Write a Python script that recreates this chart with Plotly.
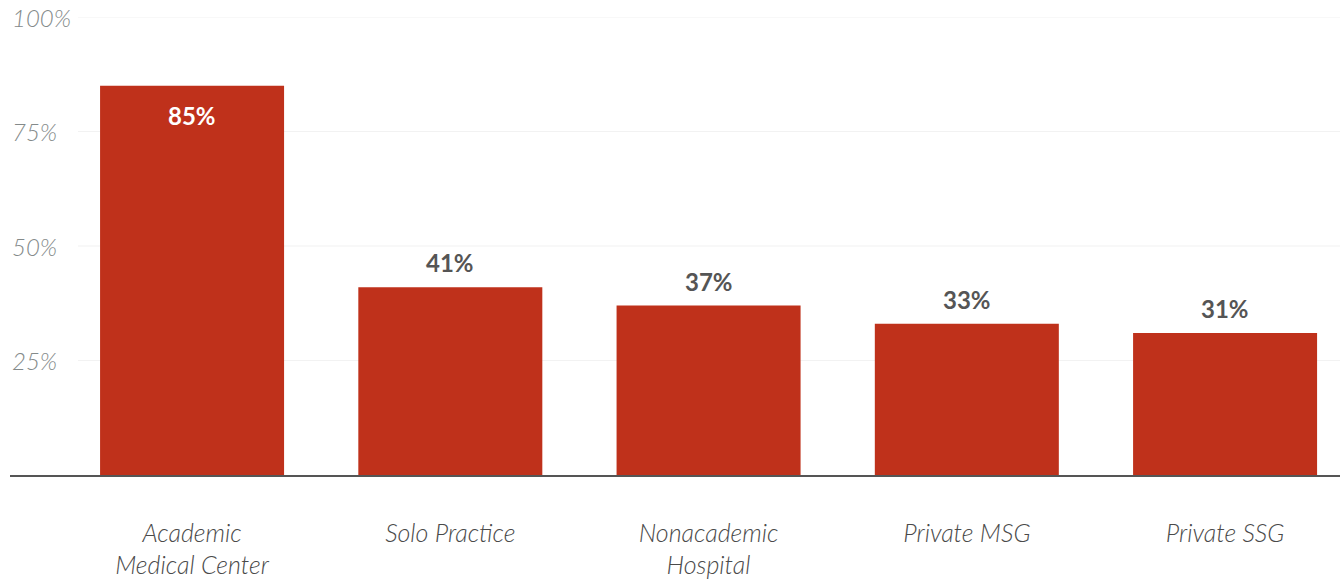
import plotly.graph_objects as go

# Share of respondents by practice setting
categories = ["Academic<br>Medical Center", "Solo Practice", "Nonacademic<br>Hospital",
              "Private MSG", "Private SSG"]
values = [85, 41, 37, 33, 31]
tick_values = [25, 50, 75, 100]
tick_labels = ["25%", "50%", "75%", "100%"]

BAR_RED = "#BF311B"
TEXT_DARK = "#555555"
TEXT_CAT = "#4A4A4A"
TEXT_LIGHT = "#848A8A"
FONT = "Lato"
INSIDE_THRESHOLD = 80

fig = go.Figure()
fig.add_trace(go.Bar(
    x=list(range(len(categories))),
    y=values,
    marker=dict(color=BAR_RED, line=dict(width=0)),
    width=0.7125,
    hoverinfo="skip",
))

# value labels: inside (white) for the tall bar, above for the rest
for i, v in enumerate(values):
    inside = v >= INSIDE_THRESHOLD
    fig.add_annotation(
        x=i, y=v, xref="x", yref="y",
        text=f"<b>{v}%</b>",
        showarrow=False,
        yanchor="top" if inside else "bottom",
        yshift=-13 if inside else 8,
        font=dict(family=FONT, size=24, color="white" if inside else TEXT_DARK),
    )

# left-aligned y tick labels and light gridlines to their right
grid_x0 = (78 - 10) / 1330
for t, lab in zip(tick_values, tick_labels):
    fig.add_shape(type="line", xref="paper", yref="y", x0=grid_x0, x1=1, y0=t, y1=t,
                  line=dict(color="#F2F2F2", width=1.2), layer="below")
    fig.add_annotation(
        x=0, y=t, xref="paper", yref="y",
        text=f"<i>{lab}</i>", showarrow=False,
        xanchor="left", yanchor="middle", xshift=0,
        font=dict(family=FONT, size=24, color=TEXT_LIGHT, weight=300),
    )

fig.update_layout(
    width=1340, height=580,
    margin=dict(l=10, r=0, t=17, b=105),
    paper_bgcolor="white", plot_bgcolor="white",
    showlegend=False,
    font=dict(family=FONT),
    xaxis=dict(
        range=[-0.705, 4.445],
        tickmode="array",
        tickvals=list(range(len(categories))),
        ticktext=[f"<i>{c}</i>" for c in categories],
        tickfont=dict(family=FONT, size=25, color=TEXT_CAT, weight=300),
        showgrid=False, zeroline=False,
        showline=True, linecolor="#555555", linewidth=1.5,
        ticks="", ticklabelstandoff=35,
        fixedrange=True,
    ),
    yaxis=dict(
        range=[0, 100],
        showticklabels=False,
        showgrid=False, zeroline=False, showline=False,
        ticks="", fixedrange=True,
    ),
)

fig.write_html("out.html")
